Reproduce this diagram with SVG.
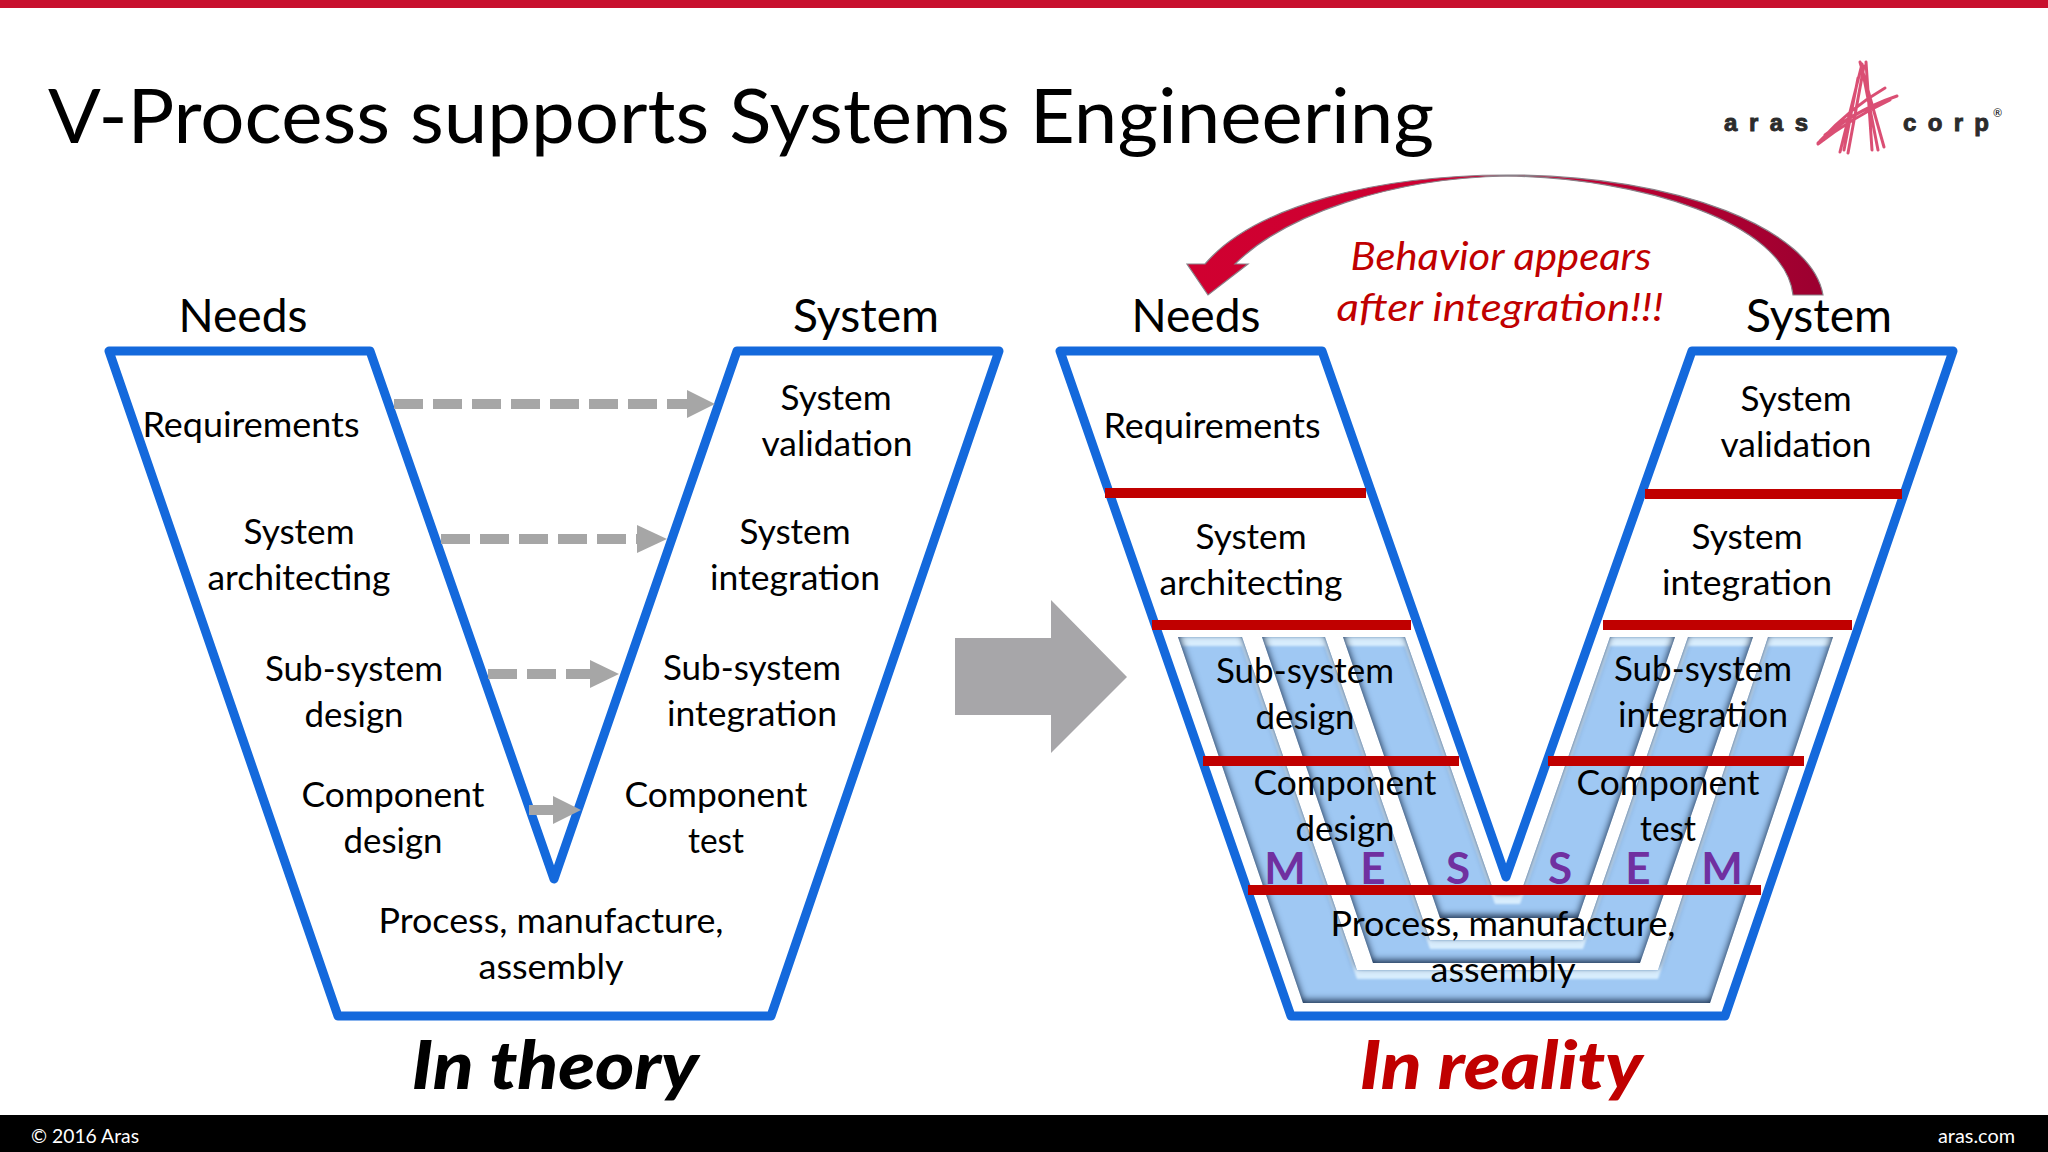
<svg xmlns="http://www.w3.org/2000/svg" width="2048" height="1152" viewBox="0 0 2048 1152">
<style>
text{font-family:Lato,"Open Sans","Liberation Sans",sans-serif;fill:#000}
.b{font-size:35px;text-anchor:middle}
.h{font-size:46px;text-anchor:middle}
.mes{font-size:44px;font-weight:700;fill:#7030a0;text-anchor:middle}
.note{font-size:38px;font-style:italic;fill:#c00000;text-anchor:middle}
.cap{font-size:67px;font-style:italic;font-weight:900;text-anchor:middle}
.foot{font-size:19px;fill:#fff}
.logo{font-size:24px;font-weight:900;fill:#2b2b2b;stroke:#2b2b2b;stroke-width:.9px;font-family:"Liberation Sans",sans-serif}
.v{fill:none;stroke:#1469dc;stroke-width:9;stroke-linejoin:round}
.red{stroke:#c00000;stroke-width:10}
.dash{stroke:#a6a6a6;stroke-width:10;stroke-dasharray:29 10;fill:none}
.tip{fill:#a6a6a6}
.band{fill:#9fc8f3;filter:url(#bevel)}
.ml{stroke:#d4305c;stroke-width:3;fill:none;stroke-linecap:round}
</style>
<defs>
<linearGradient id="curve" x1="0" y1="0" x2="1" y2="0"><stop offset="0" stop-color="#d00030"/><stop offset="0.5" stop-color="#cc0033"/><stop offset="1" stop-color="#9c0030"/></linearGradient>
<filter id="bevel" x="-5%" y="-5%" width="110%" height="110%" color-interpolation-filters="sRGB">
<feOffset in="SourceAlpha" dy="9" result="o2"/>
<feComposite in="SourceAlpha" in2="o2" operator="out" result="lm0"/>
<feGaussianBlur in="lm0" stdDeviation="1.2" result="lm1"/>
<feComposite in="lm1" in2="SourceAlpha" operator="in" result="lm"/>
<feFlood flood-color="#d8edfd" result="lf"/>
<feComposite in="lf" in2="lm" operator="in" result="light"/>
<feOffset in="SourceAlpha" dy="-3" result="o"/>
<feGaussianBlur in="o" stdDeviation="3.6" result="bl"/>
<feComposite in="SourceAlpha" in2="bl" operator="out" result="edge"/>
<feFlood flood-color="#1f3554" result="df"/>
<feComposite in="df" in2="edge" operator="in" result="dark"/>
<feMerge><feMergeNode in="SourceGraphic"/><feMergeNode in="light"/><feMergeNode in="dark"/></feMerge>
</filter>
</defs>
<rect width="2048" height="1152" fill="#fff"/>
<rect id="topbar" width="2048" height="8" fill="#c8102e"/>
<rect id="footbar" y="1115" width="2048" height="37" fill="#000"/>
<text class="foot" x="31" y="1143" textLength="108" lengthAdjust="spacingAndGlyphs">© 2016 Aras</text>
<text class="foot" x="2015" y="1143" text-anchor="end" textLength="77" lengthAdjust="spacingAndGlyphs">aras.com</text>
<text id="title" x="48" y="143" font-size="76" textLength="1386" lengthAdjust="spacingAndGlyphs">V-Process supports Systems Engineering</text>

<g id="logo">
<text class="logo" x="1724" y="131" textLength="84" lengthAdjust="spacing">aras</text>
<text class="logo" x="1903" y="131" textLength="86" lengthAdjust="spacing">corp</text>
<text x="1993" y="117" font-size="11" fill="#999">®</text>
<g opacity="0.85">
<path class="ml" d="M1862 64L1840 152M1864 66L1848 153M1866 62L1872 150M1862 68L1878 150M1860 62L1884 147M1858 78L1844 150M1818 143Q1850 112 1897 96M1820 141Q1850 108 1885 88M1818 144Q1852 118 1890 100M1825 135Q1850 115 1878 104"/>
</g>
</g>

<g id="v-theory"><path class="v" d="M109 351H370L554 879L737 351H999L771 1016H338Z"/></g>
<g id="bands">
<polygon class="band" points="1178,637 1242,637 1357,970 1658,970 1768,637 1833,637 1710,1003 1303,1003"/>
<polygon class="band" points="1262,637 1325,637 1430,940 1583,940 1688,637 1753,637 1640,963 1373,963"/>
<polygon class="band" points="1343,637 1405,637 1495,895 1520,895 1610,637 1675,637 1578,918 1440,918"/>
</g>
<g id="v-reality"><path class="v" d="M1060 351H1322L1506 877L1692 351H1953L1725 1016H1291Z"/></g>
<g id="dividers">
<line class="red" x1="1105" y1="493" x2="1366" y2="493"/>
<line class="red" x1="1152" y1="625" x2="1411" y2="625"/>
<line class="red" x1="1203" y1="761" x2="1459" y2="761"/>
<line class="red" x1="1248" y1="890" x2="1761" y2="890"/>
<line class="red" x1="1645" y1="494" x2="1902" y2="494"/>
<line class="red" x1="1603" y1="625" x2="1852" y2="625"/>
<line class="red" x1="1548" y1="761" x2="1804" y2="761"/>
</g>

<g id="connectors">
<g id="trace1"><line class="dash" x1="394" y1="404" x2="687" y2="404"/><polygon class="tip" points="687,390 715,404 687,418"/></g>
<g id="trace2"><line class="dash" x1="441" y1="539" x2="637" y2="539"/><polygon class="tip" points="637,525 667,539 637,553"/></g>
<g id="trace3"><line class="dash" x1="488" y1="674" x2="590" y2="674"/><polygon class="tip" points="590,660 619,674 590,688"/></g>
<g id="trace4"><line class="dash" x1="529" y1="810" x2="553" y2="810"/><polygon class="tip" points="553,796 581,810 553,824"/></g>
<polygon id="big-arrow" fill="#a7a6a9" points="955,638 1051,638 1051,600 1127,677 1051,753 1051,715 955,715"/>
<path id="feedback" fill="url(#curve)" stroke="#8a8088" stroke-width="1.2" d="M1823 295C1812 230 1680 175 1507 175C1380 175 1255 205 1205 264L1187 264L1208 295L1248 264L1235 264C1285 215 1390 178 1507 176C1640 178 1785 222 1793 295Z"/>
</g>

<g id="labels-theory">
<text class="h" x="243" y="332" textLength="129" lengthAdjust="spacingAndGlyphs">Needs</text>
<text class="h" x="866" y="332" textLength="146" lengthAdjust="spacingAndGlyphs">System</text>
<g id="n-req"><text class="b" x="251" y="437" textLength="217" lengthAdjust="spacingAndGlyphs">Requirements</text></g>
<g id="n-val"><text class="b" x="836" y="410" textLength="111" lengthAdjust="spacingAndGlyphs">System</text><text class="b" x="837" y="456" textLength="151" lengthAdjust="spacingAndGlyphs">validation</text></g>
<g id="n-arc"><text class="b" x="299" y="544" textLength="111" lengthAdjust="spacingAndGlyphs">System</text><text class="b" x="299" y="590" textLength="183" lengthAdjust="spacingAndGlyphs">architecting</text></g>
<g id="n-int"><text class="b" x="795" y="544" textLength="111" lengthAdjust="spacingAndGlyphs">System</text><text class="b" x="795" y="590" textLength="170" lengthAdjust="spacingAndGlyphs">integration</text></g>
<g id="n-sd"><text class="b" x="354" y="681" textLength="178" lengthAdjust="spacingAndGlyphs">Sub-system</text><text class="b" x="354" y="727" textLength="99" lengthAdjust="spacingAndGlyphs">design</text></g>
<g id="n-si"><text class="b" x="752" y="680" textLength="178" lengthAdjust="spacingAndGlyphs">Sub-system</text><text class="b" x="752" y="726" textLength="170" lengthAdjust="spacingAndGlyphs">integration</text></g>
<g id="n-cd"><text class="b" x="393" y="807" textLength="183" lengthAdjust="spacingAndGlyphs">Component</text><text class="b" x="393" y="853" textLength="99" lengthAdjust="spacingAndGlyphs">design</text></g>
<g id="n-ct"><text class="b" x="716" y="807" textLength="183" lengthAdjust="spacingAndGlyphs">Component</text><text class="b" x="716" y="853" textLength="56" lengthAdjust="spacingAndGlyphs">test</text></g>
<g id="n-pm"><text class="b" x="551" y="933" textLength="345" lengthAdjust="spacingAndGlyphs">Process, manufacture,</text><text class="b" x="551" y="979" textLength="145" lengthAdjust="spacingAndGlyphs">assembly</text></g>
<text class="cap" x="555" y="1089" textLength="287" lengthAdjust="spacingAndGlyphs">In theory</text>
</g>

<g id="labels-reality">
<text class="h" x="1196" y="332" textLength="129" lengthAdjust="spacingAndGlyphs">Needs</text>
<text class="h" x="1819" y="332" textLength="146" lengthAdjust="spacingAndGlyphs">System</text>
<text class="note" x="1501" y="270" textLength="301" lengthAdjust="spacingAndGlyphs">Behavior appears</text>
<text class="note" x="1500" y="321" textLength="327" lengthAdjust="spacingAndGlyphs">after integration!!!</text>
<g id="r-req"><text class="b" x="1212" y="438" textLength="217" lengthAdjust="spacingAndGlyphs">Requirements</text></g>
<g id="r-val"><text class="b" x="1796" y="411" textLength="111" lengthAdjust="spacingAndGlyphs">System</text><text class="b" x="1796" y="457" textLength="151" lengthAdjust="spacingAndGlyphs">validation</text></g>
<g id="r-arc"><text class="b" x="1251" y="549" textLength="111" lengthAdjust="spacingAndGlyphs">System</text><text class="b" x="1251" y="595" textLength="183" lengthAdjust="spacingAndGlyphs">architecting</text></g>
<g id="r-int"><text class="b" x="1747" y="549" textLength="111" lengthAdjust="spacingAndGlyphs">System</text><text class="b" x="1747" y="595" textLength="170" lengthAdjust="spacingAndGlyphs">integration</text></g>
<g id="r-sd"><text class="b" x="1305" y="683" textLength="178" lengthAdjust="spacingAndGlyphs">Sub-system</text><text class="b" x="1305" y="729" textLength="99" lengthAdjust="spacingAndGlyphs">design</text></g>
<g id="r-si"><text class="b" x="1703" y="681" textLength="178" lengthAdjust="spacingAndGlyphs">Sub-system</text><text class="b" x="1703" y="727" textLength="170" lengthAdjust="spacingAndGlyphs">integration</text></g>
<g id="r-cd"><text class="b" x="1345" y="795" textLength="183" lengthAdjust="spacingAndGlyphs">Component</text><text class="b" x="1345" y="841" textLength="99" lengthAdjust="spacingAndGlyphs">design</text></g>
<g id="r-ct"><text class="b" x="1668" y="795" textLength="183" lengthAdjust="spacingAndGlyphs">Component</text><text class="b" x="1668" y="841" textLength="56" lengthAdjust="spacingAndGlyphs">test</text></g>
<g id="r-pm"><text class="b" x="1503" y="936" textLength="345" lengthAdjust="spacingAndGlyphs">Process, manufacture,</text><text class="b" x="1503" y="982" textLength="145" lengthAdjust="spacingAndGlyphs">assembly</text></g>
<text class="mes" x="1285" y="884">M</text><text class="mes" x="1373" y="884">E</text><text class="mes" x="1458" y="884">S</text>
<text class="mes" x="1560" y="884">S</text><text class="mes" x="1638" y="884">E</text><text class="mes" x="1722" y="884">M</text>
<text class="cap" x="1501" y="1089" style="fill:#c00000" textLength="283" lengthAdjust="spacingAndGlyphs">In reality</text>
</g>
</svg>
